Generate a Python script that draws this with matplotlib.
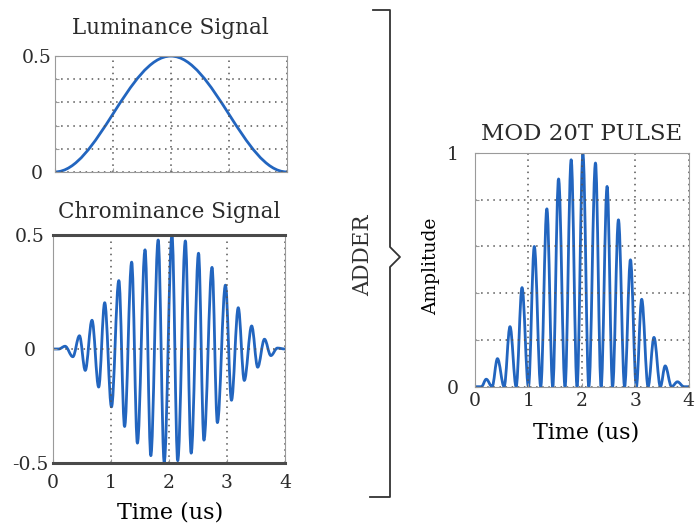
import matplotlib.pyplot as plt
from matplotlib.path import Path
from matplotlib.patches import PathPatch
from matplotlib.lines import Line2D

plt.rcParams['font.family'] = ['DejaVu Serif']
plt.rcParams['text.color'] = '#2b2b2b'
plt.rcParams['xtick.color'] = '#2b2b2b'
plt.rcParams['ytick.color'] = '#2b2b2b'

LINE = '#2265bf'
GRID = '#555555'

# turning points of each trace (time in us, value)
lum_t = [0.0, 2.0, 4.0]
lum_v = [0.0, 0.5, 0.0]

chroma_t = [0.0, 0.10, 0.209, 0.343, 0.457, 0.557, 0.673, 0.788, 0.892, 1.009,
            1.136, 1.235, 1.357, 1.456, 1.588, 1.687, 1.814, 1.918, 2.052, 2.151,
            2.283, 2.383, 2.510, 2.603, 2.743, 2.835, 2.974, 3.078, 3.195, 3.299,
            3.426, 3.530, 3.647, 3.757, 3.870, 4.0]
chroma_v = [0.0, 0.0, 0.012, -0.034, 0.058, -0.094, 0.126, -0.167, 0.203, -0.254,
            0.300, -0.340, 0.381, -0.413, 0.435, -0.468, 0.478, -0.496, 0.500, -0.490,
            0.474, -0.457, 0.420, -0.400, 0.358, -0.323, 0.280, -0.225, 0.181, -0.138,
            0.101, -0.080, 0.043, -0.029, 0.004, 0.0]

pulse_t = [0.0, 0.12, 0.21, 0.32, 0.42, 0.545, 0.655, 0.77, 0.88, 1.0,
           1.11, 1.23, 1.345, 1.455, 1.564, 1.685, 1.80, 1.91, 2.02, 2.13,
           2.255, 2.36, 2.473, 2.575, 2.685, 2.80, 2.91, 3.02, 3.12, 3.24,
           3.35, 3.47, 3.56, 3.68, 3.79, 3.91, 4.0]
pulse_v = [0.0, 0.0, 0.032, 0.0, 0.12, 0.0, 0.257, 0.0, 0.424, 0.0,
           0.60, 0.0, 0.761, 0.0, 0.889, 0.0, 0.971, 0.0, 0.995, 0.0,
           0.957, 0.0, 0.857, 0.0, 0.714, 0.0, 0.543, 0.0, 0.374, 0.0,
           0.211, 0.0, 0.089, 0.0, 0.021, 0.0, 0.0]

time_ticks = [0, 1, 2, 3, 4]


def smooth_trace(ax, ts, vs, k=0.36):
    # cubic segments with flat tangents at every turning point
    verts = [(ts[0], vs[0])]
    codes = [Path.MOVETO]
    for i in range(1, len(ts)):
        dt = ts[i] - ts[i - 1]
        verts += [(ts[i - 1] + k * dt, vs[i - 1]), (ts[i] - k * dt, vs[i]), (ts[i], vs[i])]
        codes += [Path.CURVE4] * 3
    ax.add_patch(PathPatch(Path(verts, codes), fill=False, edgecolor=LINE,
                           lw=2.0, joinstyle='round', capstyle='round'))


def style(ax, ylab_pad):
    for s in ax.spines.values():
        s.set_color('#9a9a9a')
        s.set_linewidth(0.8)
    ax.grid(True, color=GRID, linestyle=(0, (1, 3)), linewidth=1.1)
    ax.tick_params(direction='in', length=3, color='#9a9a9a', labelsize=13.5)
    ax.tick_params(axis='y', pad=ylab_pad)
    for lab in ax.get_yticklabels():
        lab.set_horizontalalignment('center')
    ax.set_xlim(0, 4)


fig = plt.figure(figsize=(6.96, 5.29), dpi=100)

# luminance
ax1 = fig.add_axes([0.079, 0.675, 0.333, 0.219])
smooth_trace(ax1, lum_t, lum_v)
ax1.set_ylim(0, 0.5)
ax1.set_xticks(time_ticks)
ax1.set_xticklabels([])
ax1.set_yticks([0, 0.1, 0.2, 0.3, 0.4, 0.5])
ax1.set_yticklabels(['0', '', '', '', '', '0.5'])
style(ax1, 13)
ax1.set_title('Luminance Signal', fontsize=15.5, pad=16)

# chrominance
ax2 = fig.add_axes([0.0761, 0.1248, 0.3333, 0.431])
smooth_trace(ax2, chroma_t, chroma_v)
ax2.set_ylim(-0.5, 0.5)
ax2.set_xticks(time_ticks)
ax2.set_yticks([-0.5, 0, 0.5])
ax2.set_yticklabels(['-0.5', '0', '0.5'])
style(ax2, 16.5)
ax2.tick_params(axis='x', pad=8)
for side in ['top', 'bottom']:
    ax2.spines[side].set_color('#4a4a4a')
    ax2.spines[side].set_linewidth(2.2)
ax2.set_title('Chrominance Signal', fontsize=15.5, pad=12)
ax2.set_xlabel('Time (us)', fontsize=16)
ax2.xaxis.set_label_coords(0.504, -0.171)

# modulated pulse
ax3 = fig.add_axes([0.6825, 0.269, 0.307, 0.4418])
smooth_trace(ax3, pulse_t, pulse_v)
ax3.set_ylim(0, 1)
ax3.set_xticks(time_ticks)
ax3.set_yticks([0, 0.2, 0.4, 0.6, 0.8, 1.0])
ax3.set_yticklabels(['0', '', '', '', '', '1'])
style(ax3, 16)
ax3.tick_params(axis='x', pad=4)
ax3.set_title('MOD 20T PULSE', fontsize=16.5, pad=9.5)
ax3.set_xlabel('Time (us)', fontsize=16)
ax3.xaxis.set_label_coords(0.52, -0.151)
ax3.set_ylabel('Amplitude', fontsize=13.5)
ax3.yaxis.set_label_coords(-0.164, 0.516)

# adder bracket between the inputs and the sum
W, H = 696.0, 529.0
bx = [373, 390, 390, 400, 390, 390, 370]
by = [10, 10, 247, 257, 267, 497, 497]
fig.add_artist(Line2D([x / W for x in bx], [1 - y / H for y in by],
                      transform=fig.transFigure, color='#333333', lw=1.3))
fig.text(363 / W, 1 - 255 / H, 'ADDER', rotation=90, ha='center', va='center',
         fontsize=15.5, color='#333333')

fig.savefig('out.png', dpi=100)
